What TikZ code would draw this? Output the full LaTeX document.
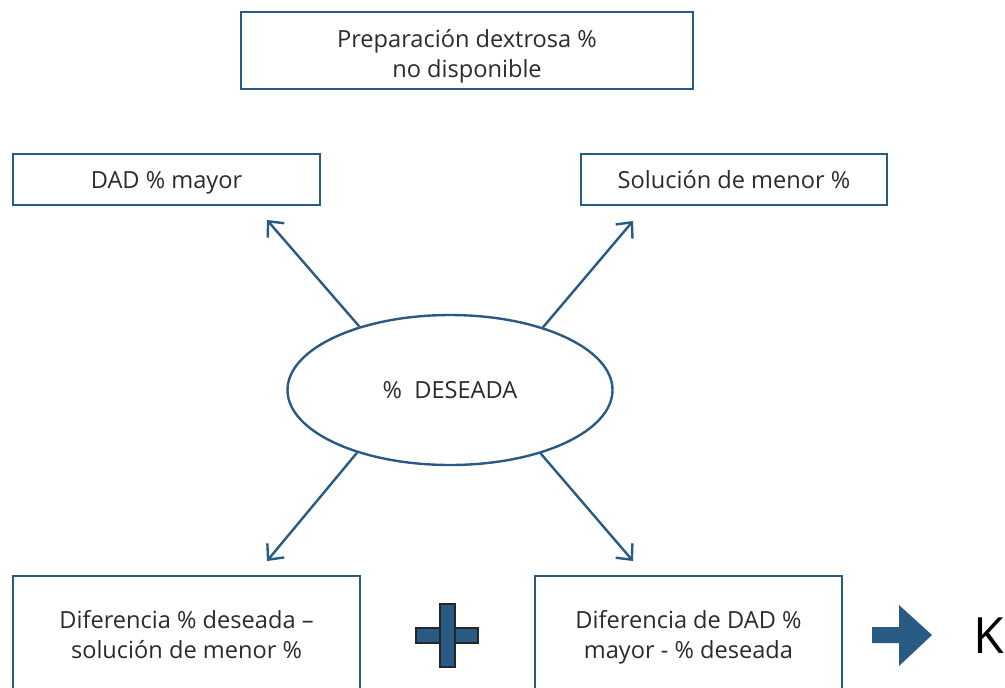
\documentclass[tikz,border=0pt]{standalone}
\usepackage{fontspec}
\setmainfont{Open Sans}
\usepackage{tikz}
\usetikzlibrary{arrows.meta,shapes.geometric}
\usepackage{xcolor}
\definecolor{BoxBlue}{HTML}{285A84}
\definecolor{TextGray}{HTML}{2B2B2B}
\newcommand{\dosLineas}[2]{\raisebox{-#1}[0pt][0pt]{\begin{tabular}{@{}c@{}}#2\end{tabular}}}

\tikzset{
  caja/.style={draw=BoxBlue,line width=1.2pt,align=center,inner sep=0pt,
    text=TextGray,font=\fontsize{11.8}{15}\selectfont},
  linea/.style={text height=11pt,text depth=1.7pt},
  ovalo/.style={caja,ellipse},
  flecha/.style={BoxBlue,line width=1.2pt,-{Straight Barb[length=6pt,width=11pt,line width=1.2pt]}}
}

\begin{document}
\begin{tikzpicture}[x=0.5pt,y=-0.5pt]
    \useasboundingbox (0,0) rectangle (1005,687);
    \begin{scope}
    \clip (0,0) rectangle (1005,687);
    \node[caja,minimum width=226pt,minimum height=38.5pt] (prep) at (467,50.5)
      {\dosLineas{5.8pt}{Preparación dextrosa \%\\no disponible}};
    \node[caja,linea,minimum width=153.5pt,minimum height=25.5pt] (mayor) at (166.5,179.5) {DAD \% mayor};
    \node[caja,linea,minimum width=153pt,minimum height=25.5pt] (menor) at (734,179.5) {Solución de menor \%};
    \node[ovalo,minimum width=162.5pt,minimum height=75pt] (deseada) at (450,390) {\%\ \ DESEADA};
    \node[caja,minimum width=173.5pt,minimum height=58.5pt] (difa) at (186.5,634.5)
      {\dosLineas{4.7pt}{Diferencia \% deseada --\\solución de menor \%}};
    \node[caja,minimum width=153.5pt,minimum height=58.5pt] (difb) at (688.5,634.5)
      {\dosLineas{4.7pt}{Diferencia de DAD \%\\mayor - \% deseada}};
    \end{scope}

    % puntas de las flechas
    \coordinate (pa) at (267,220);
    \coordinate (pb) at (633,221);
    \coordinate (pc) at (267,561);
    \coordinate (pd) at (633,561);
    \foreach \ang/\tip in {145.6/pa,34.4/pb,214.4/pc,325.6/pd} {
      \draw[flecha] (deseada.\ang) -- (\tip);
    }

    % signo mas
    \draw[fill=BoxBlue,draw=black!85,line width=0.6pt] (416,628) rectangle (478,643);
    \draw[fill=BoxBlue,draw=black!85,line width=0.6pt] (440,604) rectangle (455,667);

    % flecha gruesa
    \fill[BoxBlue] (872,627) -- (899,627) -- (899,605) -- (932,635) -- (899,666)
      -- (899,643) -- (872,643) -- cycle;
    \node[anchor=base west,inner sep=0pt,text=black,font=\fontsize{25}{30}\selectfont] (k) at (973,653) {K};
\end{tikzpicture}
\end{document}
